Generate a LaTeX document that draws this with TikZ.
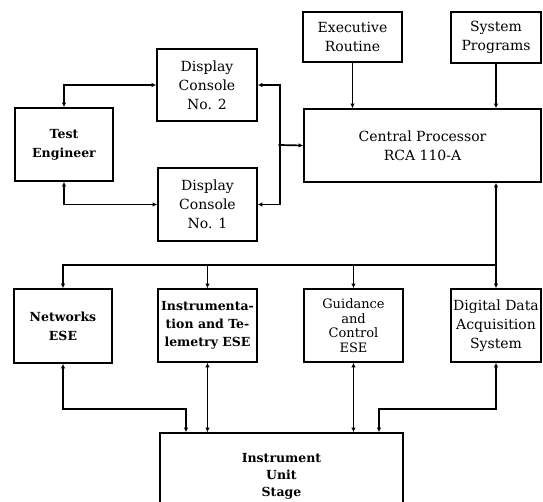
\documentclass[tikz,border=0pt]{standalone}
\usepackage{fontspec}
\setmainfont{DejaVu Serif}
\usetikzlibrary{arrows.meta}

\tikzset{
  blk/.style={draw, line width=1.7pt, align=center, inner sep=0pt,
    font=\fontsize{14}{19}\selectfont},
  link/.style={line width=1.7pt, {Latex[length=4.5pt,width=4.5pt]}-{Latex[length=4.5pt,width=4.5pt]}},
  feed/.style={line width=1.7pt, -{Latex[length=4.5pt,width=4.5pt]}},
}

\begin{document}
\begin{tikzpicture}[x=1pt, y=-1pt]
\clip (0,0) rectangle (543,501);
% consoles and operator
\node[blk, minimum width=98pt, minimum height=73pt, font=\fontsize{12.5}{19}\selectfont\bfseries] (te) at (64,144.5) {Test\\Engineer};
\node[blk, minimum width=100pt, minimum height=72pt] (dc2) at (207,85) {Display\\Console\\No. 2};
\node[blk, minimum width=99pt, minimum height=73pt] (dc1) at (207.5,204.5) {Display\\Console\\No. 1};
% computer
\node[blk, minimum width=99pt, minimum height=50pt] (exec) at (352.5,37) {Executive\\Routine};
\node[blk, minimum width=90pt, minimum height=51pt] (sysprog) at (496,37.5) {System\\Programs};
\node[blk, minimum width=237pt, minimum height=73pt] (cp) at (422.5,145.5) {Central Processor\\RCA 110-A};
% equipment
\node[blk, minimum width=98pt, minimum height=74pt, font=\fontsize{12.5}{19}\selectfont\bfseries] (net) at (63,326) {Networks\\ESE};
\node[blk, minimum width=99pt, minimum height=73pt, font=\fontsize{12.5}{18}\selectfont\bfseries] (inst) at (207.5,325.5) {Instrumenta-\\tion and Te-\\lemetry ESE};
\node[blk, minimum width=99pt, minimum height=73pt, font=\fontsize{13}{14.5}\selectfont] (guid) at (353.5,325.5) {Guidance\\and\\Control\\ESE};
\node[blk, minimum width=90pt, minimum height=73pt] (ddas) at (496,325.5) {Digital Data\\Acquisition\\System};
\node[blk, minimum width=243pt, minimum height=87pt, font=\fontsize{12.5}{17}\selectfont\bfseries] (iu) at (281.5,476.5) {Instrument\\Unit\\Stage};

\coordinate (j) at (280,145);
\coordinate (bus) at (ddas.north |- 0,265);
\coordinate (nl) at (186,409);
\coordinate (dl) at (379,409);

\draw[link] (te.north) |- (dc2.west);
\draw[link] (te.south) |- (dc1.west);
\draw[link] (dc2.east) -| (j) |- (dc1.east);
\draw[feed] (j) -- (cp.west);
\fill (j) circle (1.8pt);
\draw[feed] (exec.south) -- (exec.south |- cp.north);
\draw[feed] (sysprog.south) -- (sysprog.south |- cp.north);
\draw[link] (cp.south -| ddas.north) -- (ddas.north);
\draw[feed] (bus) -| (net.north);
\draw[feed] (inst.north |- bus) -- (inst.north);
\draw[feed] (guid.north |- bus) -- (guid.north);
\draw[link] (net.south) |- (nl) -- (nl |- iu.north);
\draw[link] (inst.south) -- (inst.south |- iu.north);
\draw[link] (guid.south) -- (guid.south |- iu.north);
\draw[link] (ddas.south) |- (dl) -- (dl |- iu.north);
\end{tikzpicture}
\end{document}
